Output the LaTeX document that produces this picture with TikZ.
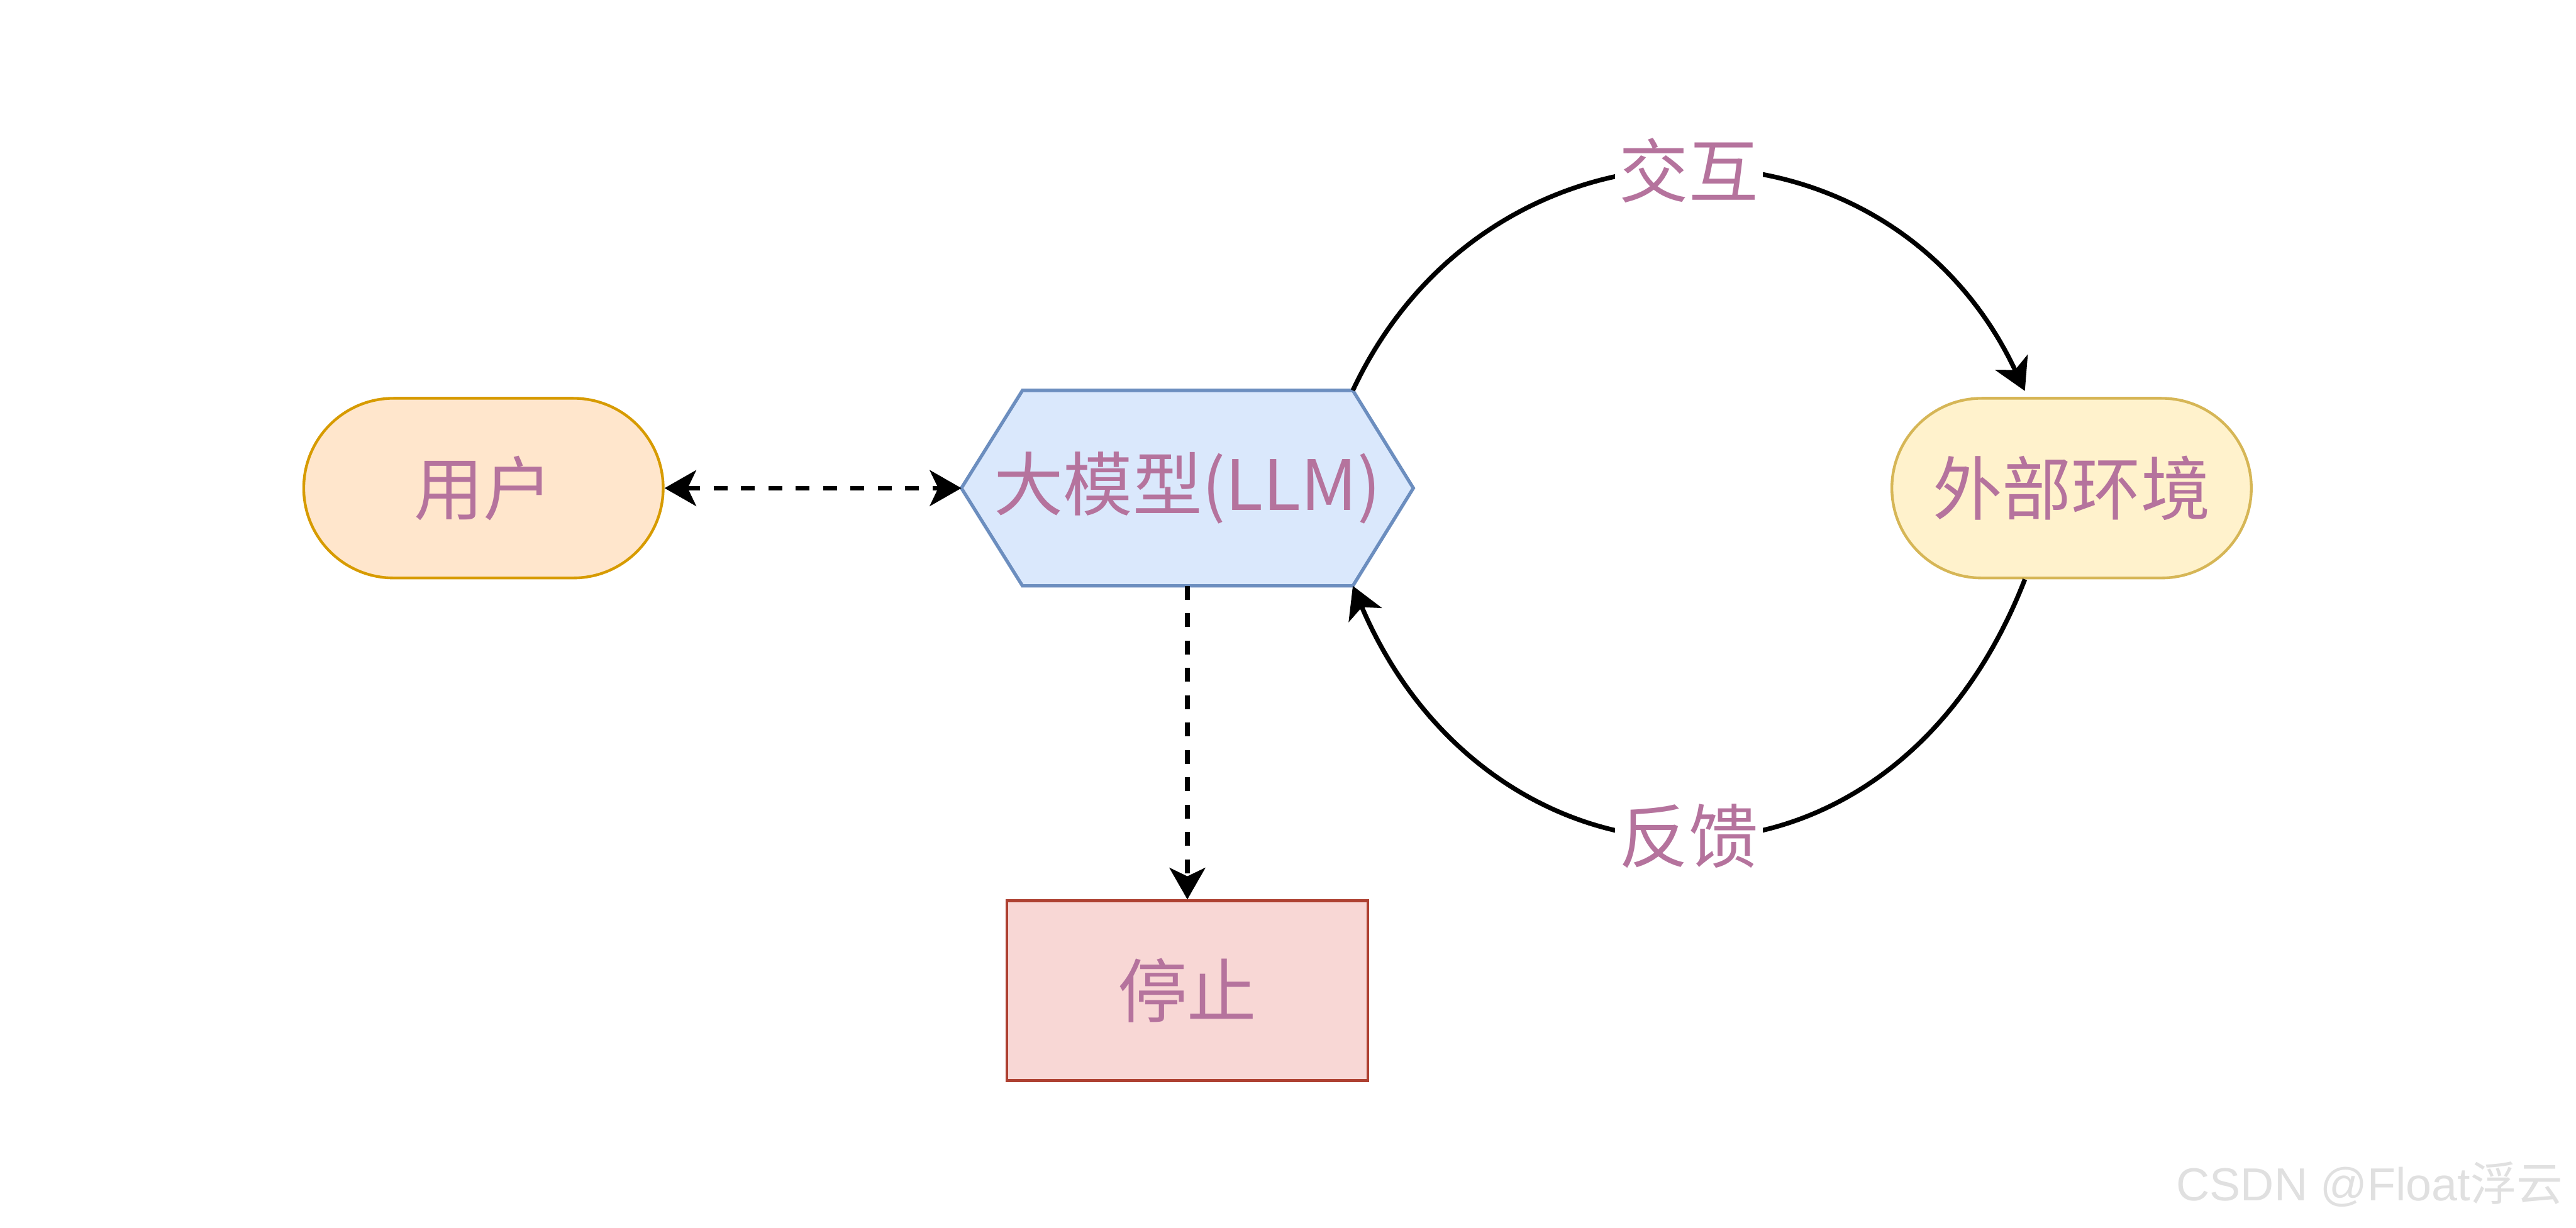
\documentclass[tikz,border=0pt]{standalone}
\usepackage{fontspec}
\usepackage{tikz}
\usetikzlibrary{arrows.meta,calc,backgrounds}
\newfontfamily\cjk{Noto Sans CJK SC}
\newfontfamily\wmfont{Liberation Sans}
\definecolor{txtpink}{HTML}{B5739D}
\definecolor{userfill}{HTML}{FFE6CC}
\definecolor{userline}{HTML}{D79B00}
\definecolor{llmfill}{HTML}{DAE8FC}
\definecolor{llmline}{HTML}{6C8EBF}
\definecolor{envfill}{HTML}{FFF2CC}
\definecolor{envline}{HTML}{D6B656}
\definecolor{stopfill}{HTML}{F8D7D5}
\definecolor{stopline}{HTML}{AE4132}

\begin{document}
\begin{tikzpicture}[>={Stealth[length=15pt,width=17pt,inset=4pt]},
  font=\cjk\fontsize{33}{38}\selectfont,
  pill/.style={draw,rounded corners=1.5cm,line width=1.3pt,minimum width=6cm,minimum height=3cm,text=txtpink},
  hexa/.style={inner sep=0pt,minimum width=7.53cm,minimum height=3.25cm,text=txtpink},
  stopbox/.style={draw=stopline,fill=stopfill,line width=1.3pt,minimum width=6.02cm,minimum height=3cm,text=txtpink},
  link/.style={line width=2.2pt},
  dashlink/.style={line width=2.2pt,dash pattern=on 6.5pt off 6.5pt},
  lbl/.style={fill=white,inner sep=2pt,text=txtpink},
  wm/.style={text=black!12,font=\wmfont\fontsize{22}{26}\selectfont}]
  \useasboundingbox (0,0) rectangle (43,20.5);
  \node[hexa] (llm) at (19.82,12.35) {大模型(LLM)};
  \node[pill,fill=userfill,draw=userline,left of=llm,node distance=11.75cm] (user) {用户};
  \node[pill,fill=envfill,draw=envline,right of=llm,node distance=14.76cm] (env) {外部环境};
  \node[stopbox,below of=llm,node distance=8.39cm] (stop) {停止};
  \begin{scope}[on background layer]
    \fill[white] (0,0) rectangle (43,20.5);
    \draw[draw=llmline,fill=llmfill,line width=1.6pt] (llm.west) -- ([xshift=1.02cm]llm.north west)
      -- ([xshift=-1.01cm]llm.north east) coordinate (llmne) -- (llm.east)
      -- ([xshift=-1.01cm]llm.south east) coordinate (llmse) -- ([xshift=1.02cm]llm.south west) -- cycle;
  \end{scope}
  \draw[dashlink,<->] (user.east) -- (llm.west);
  \draw[dashlink,->] (llm.south) -- (stop.north);
  \draw[link,->] (llmne) .. controls +(2.3,4.9) and +(-2.3,4.9) .. ([xshift=-7.8mm,yshift=1mm]env.north)
    node[lbl,pos=0.5] (ask) {交互};
  \draw[link,->] ([xshift=-7.8mm]env.south) .. controls +(-2.3,-5.9) and +(2.3,-5.4) .. (llmse)
    node[lbl,pos=0.5] (back) {反馈};
  \node[wm,anchor=east] (mark) at (42.91,0.73) {CSDN @Float{\cjk 浮云}};
\end{tikzpicture}
\end{document}
